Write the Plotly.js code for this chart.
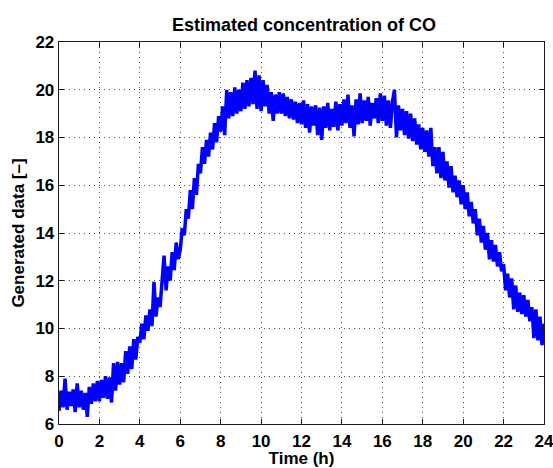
<!DOCTYPE html>
<html>
<head>
<meta charset="utf-8">
<script src="https://cdn.plot.ly/plotly-3.0.1.min.js"></script>
<style>
  html, body { margin: 0; padding: 0; background: #ffffff; }
  #chart { width: 553px; height: 468px; }
</style>
</head>
<body>
<div id="chart"></div>
<script>
// Sampling step of the measured series, hours
const stepHours = 0.1;

// Estimated CO concentration, one row per hour (10 samples each), plus the final sample at 24 h
const coHour00 = [6.55, 7.40, 6.70, 7.90, 6.60, 7.35, 6.75, 7.45, 6.50, 7.70];
const coHour01 = [6.70, 7.40, 6.60, 7.30, 6.30, 7.55, 6.85, 7.70, 6.95, 7.80];
const coHour02 = [6.95, 7.85, 7.10, 8.00, 7.05, 7.95, 6.90, 8.55, 7.40, 8.60];
const coHour03 = [7.65, 8.55, 7.75, 9.05, 8.10, 9.25, 8.30, 9.55, 8.70, 9.65];
const coHour04 = [9.40, 10.20, 9.55, 10.55, 9.90, 10.80, 10.10, 11.95, 10.50, 11.30];
const coHour05 = [10.90, 11.85, 13.05, 11.60, 12.60, 12.00, 13.20, 12.45, 13.60, 12.90];
const coHour06 = [13.30, 14.20, 13.90, 15.00, 14.60, 15.80, 15.00, 16.30, 15.60, 16.90];
const coHour07 = [16.50, 17.60, 16.90, 17.90, 17.20, 18.20, 17.50, 18.60, 17.80, 18.90];
const coHour08 = [18.25, 19.30, 18.10, 20.00, 18.80, 19.90, 18.90, 20.10, 19.00, 20.00];
const coHour09 = [19.10, 20.30, 19.20, 20.40, 19.30, 20.50, 19.40, 20.80, 19.20, 20.60];
const coHour10 = [19.10, 20.40, 19.30, 20.20, 19.00, 19.90, 18.70, 19.80, 19.00, 19.90];
const coHour11 = [19.00, 19.85, 18.90, 19.70, 18.80, 19.60, 18.75, 19.50, 18.60, 19.45];
const coHour12 = [18.55, 19.55, 18.40, 19.40, 18.20, 19.30, 18.50, 19.35, 18.10, 19.25];
const coHour13 = [17.90, 19.30, 18.40, 19.45, 18.30, 19.20, 18.45, 19.50, 18.30, 19.40];
const coHour14 = [18.50, 19.60, 18.60, 19.80, 18.40, 19.35, 18.05, 19.60, 18.55, 19.85];
const coHour15 = [18.60, 19.55, 18.70, 19.70, 18.50, 19.45, 18.80, 19.65, 18.60, 19.85];
const coHour16 = [18.70, 19.75, 18.50, 19.55, 18.40, 19.50, 20.00, 18.00, 19.35, 18.30];
const coHour17 = [19.20, 18.10, 19.10, 17.95, 19.00, 17.85, 18.80, 17.70, 18.55, 17.50];
const coHour18 = [18.40, 17.40, 18.30, 17.20, 18.40, 16.80, 17.60, 16.50, 17.60, 16.30];
const coHour19 = [17.40, 16.20, 17.00, 15.90, 16.80, 15.70, 16.40, 15.50, 16.20, 15.20];
const coHour20 = [16.00, 15.00, 15.70, 14.70, 15.30, 14.40, 15.00, 13.90, 14.60, 13.60];
const coHour21 = [14.30, 13.30, 14.00, 12.90, 13.70, 12.80, 13.50, 12.60, 13.20, 12.40];
const coHour22 = [12.70, 11.60, 12.30, 11.30, 12.10, 10.80, 11.80, 10.70, 11.50, 10.60];
const coHour23 = [11.40, 10.50, 11.20, 10.30, 10.90, 9.60, 10.80, 9.50, 10.50, 9.30];
const coEnd = [10.20];

// Axis ticks
const xTicks = [0, 2, 4, 6, 8, 10, 12, 14, 16, 18, 20, 22, 24];
const yTicks = [6, 8, 10, 12, 14, 16, 18, 20, 22];

const coValues = [].concat(
  coHour00, coHour01, coHour02, coHour03, coHour04, coHour05,
  coHour06, coHour07, coHour08, coHour09, coHour10, coHour11,
  coHour12, coHour13, coHour14, coHour15, coHour16, coHour17,
  coHour18, coHour19, coHour20, coHour21, coHour22, coHour23, coEnd
);
const timeHours = coValues.map((_, i) => Math.round(i * stepHours * 10) / 10);

const fontFamily = 'Liberation Sans, Arial, Helvetica, sans-serif';
const labelFont = { family: fontFamily, size: 17, color: '#000000', weight: 'bold' };

const axisCommon = {
  showline: true,
  linecolor: '#1a1a1a',
  linewidth: 1.3,
  mirror: 'ticks',
  ticks: 'inside',
  ticklen: 5,
  tickwidth: 1,
  tickcolor: '#1a1a1a',
  showgrid: true,
  gridcolor: 'rgba(0,0,0,0.7)',
  gridwidth: 1,
  griddash: '1px,4px',
  zeroline: false,
  tickfont: labelFont,
  ticklabeloverflow: 'allow'
};

const trace = {
  x: timeHours,
  y: coValues,
  type: 'scatter',
  mode: 'lines',
  line: { color: '#0000ff', width: 3.5 },
  hoverinfo: 'x+y'
};

const layout = {
  width: 553,
  height: 468,
  margin: { l: 59, r: 9, t: 42, b: 44 },
  paper_bgcolor: '#ffffff',
  plot_bgcolor: '#ffffff',
  showlegend: false,
  title: {
    text: 'Estimated concentration of CO',
    font: { family: fontFamily, size: 18, color: '#000000', weight: 'bold' },
    x: 0.505, xref: 'paper', xanchor: 'center',
    y: 0.947, yref: 'container', yanchor: 'middle'
  },
  xaxis: Object.assign({}, axisCommon, {
    range: [0, 24],
    tickvals: xTicks,
    ticktext: xTicks.map(String),
    ticklabelstandoff: 1,
    title: { text: 'Time (h)', font: labelFont, standoff: 1 }
  }),
  yaxis: Object.assign({}, axisCommon, {
    range: [6, 22],
    tickvals: yTicks,
    ticktext: yTicks.map(String),
    ticklabelstandoff: 0,
    title: { text: 'Generated data [–]', font: labelFont, standoff: 6 }
  })
};

Plotly.newPlot('chart', [trace], layout, { displayModeBar: false, staticPlot: true });
</script>
</body>
</html>
